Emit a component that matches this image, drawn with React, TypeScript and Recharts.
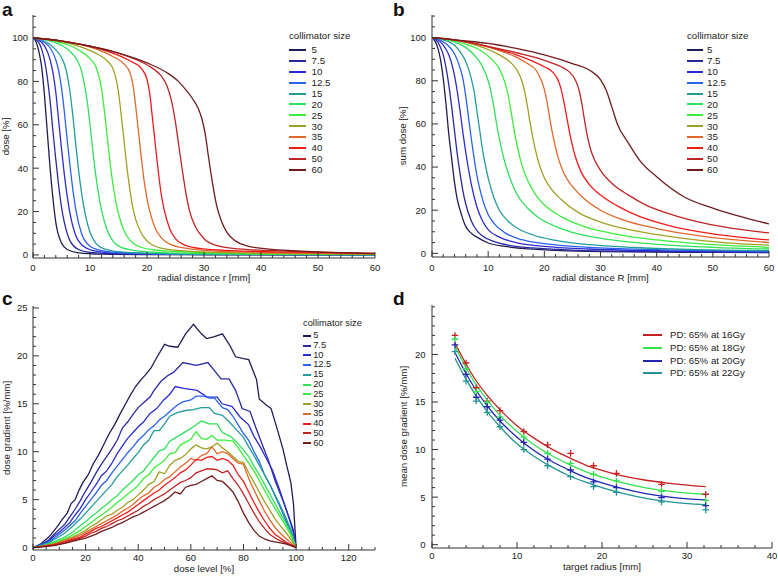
import React from 'react';
import { LineChart, ComposedChart, Line, Scatter, XAxis, YAxis, Legend } from 'recharts';

const FONT = '"Liberation Sans", Arial, Helvetica, sans-serif';
const INK = '#333';
const TXT = '#222';

// collimator sizes [mm] and their colours (panels a, b, c)
const sizes = ['5', '7.5', '10', '12.5', '15', '20', '25', '30', '35', '40', '50', '60'];
const sizeColors = ['#1e1e55', '#2a2aa0', '#2c2cd2', '#2a62ee', '#249c9c', '#2ee05a', '#3cee3c', '#a0a024', '#e0682a', '#f01c1c', '#c02424', '#701c1c'];

// a: dose profile [r mm, dose %]
const profileCurves: number[][][] = [
  [[0, 100], [0.5, 98.5], [1, 94], [1.5, 87], [2, 74], [2.5, 57], [3, 40], [3.5, 26], [4, 15], [5, 5.5], [6, 2.5], [8, 1], [12, 0.4], [20, 0.2], [60, 0]],
  [[0, 100], [1, 98], [1.5, 95], [2, 90], [2.5, 82], [3, 71], [3.5, 57], [4, 44], [4.5, 32], [5, 22], [5.5, 15], [6.5, 6.5], [8, 2.5], [10, 1.2], [15, 0.5], [30, 0.2], [60, 0]],
  [[0, 100], [1, 99], [2, 96.5], [3, 90], [3.5, 84], [4, 75], [4.5, 62], [5, 49], [5.5, 37], [6, 27], [6.5, 19], [7.5, 9], [9, 3.8], [11, 1.8], [15, 0.8], [30, 0.3], [60, 0.1]],
  [[0, 100], [1, 99.5], [2, 98], [3, 95.5], [4, 90], [4.5, 85], [5, 77], [5.5, 66], [6, 53], [6.5, 41], [7, 30], [7.5, 21], [8.5, 10], [10, 4], [12, 2], [16, 0.9], [30, 0.3], [60, 0.1]],
  [[0, 100], [1, 99.6], [2, 98.6], [3, 97], [4, 94.5], [5, 91], [5.5, 88], [6, 83], [6.5, 75], [7, 64], [7.5, 51], [8, 39], [8.5, 29], [9, 21], [10, 10.5], [11, 5.5], [12.5, 2.8], [15, 1.5], [20, 0.8], [35, 0.3], [60, 0.1]],
  [[0, 100], [2, 99.3], [4, 97.8], [6, 95], [7, 92.5], [8, 88.5], [8.5, 85], [9, 79], [9.5, 71], [10, 60], [10.5, 48], [11, 37], [11.5, 28], [12, 21], [13, 11.5], [14, 6.5], [15.5, 3.5], [18, 2], [22, 1.2], [30, 0.6], [45, 0.3], [60, 0.2]],
  [[0, 100], [2, 99.5], [4, 98.5], [6, 97], [8, 94.5], [10, 90.5], [11, 87], [11.5, 83], [12, 77], [12.5, 67], [13, 55], [13.5, 43], [14, 33], [14.5, 25], [15, 19], [16, 11], [17, 6.8], [18.5, 4], [21, 2.4], [25, 1.6], [32, 1], [45, 0.5], [60, 0.3]],
  [[0, 100], [3, 99.2], [6, 97.8], [9, 95.3], [11, 93], [13, 89.5], [14, 86], [14.5, 82], [15, 75], [15.5, 64], [16, 52], [16.5, 40], [17, 30], [17.5, 22], [18, 16.5], [19, 10], [20, 6.5], [22, 3.5], [25, 2.2], [30, 1.4], [40, 0.8], [60, 0.4]],
  [[0, 100], [4, 99], [8, 97.2], [11, 95], [14, 91.5], [16, 88], [17, 84], [17.5, 79], [18, 69], [18.5, 57], [19, 45], [19.5, 34], [20, 26], [20.5, 20], [21.5, 12], [22.5, 8], [24, 5], [27, 3], [32, 1.8], [40, 1.2], [60, 0.5]],
  [[0, 100], [4, 99], [8, 97.3], [12, 94.8], [15, 92], [17, 89.5], [19, 86], [20, 81], [20.5, 74], [21, 62], [21.5, 50], [22, 38], [22.5, 28], [23, 21], [24, 12], [25, 7.5], [27, 4.2], [30, 2.8], [35, 2], [45, 1.3], [60, 0.7]],
  [[0, 100], [5, 98.6], [10, 96.2], [15, 93], [19, 89], [21, 86], [22.5, 82.5], [23.5, 78], [24.3, 71], [25, 61], [25.6, 50], [26.2, 39], [26.8, 29], [27.5, 20], [28.5, 13], [30, 7.5], [32, 4.5], [36, 2.8], [42, 2], [50, 1.3], [60, 0.7]],
  [[0, 100], [5, 98.6], [10, 96.2], [15, 93], [20, 88.5], [23.5, 84], [25.5, 80], [27, 75.5], [28, 72], [29, 67.5], [29.6, 63], [30.2, 56], [30.8, 45], [31.5, 33], [32.2, 23], [33, 16], [34, 10.5], [35.5, 6.5], [37.5, 4.2], [41, 2.8], [47, 1.8], [53, 1.1], [60, 0.6]],
];

// b: sum dose [R mm, %]
const sumCurves: number[][][] = [
  [[0, 100], [0.5, 98.5], [1, 95.5], [1.5, 90], [2, 81], [2.5, 69], [3, 55], [3.5, 44], [4, 33], [4.5, 25], [5, 20], [6, 12.5], [7, 9.3], [8, 7.5], [10, 4.8], [13, 3.2], [16, 2.3], [22, 1.4], [30, 0.8], [45, 0.5], [60, 0.3]],
  [[0, 100], [1, 98], [1.5, 95.5], [2, 92], [2.5, 86], [3, 78], [3.5, 68], [4, 57], [4.5, 46], [5, 37], [5.5, 29], [6, 23], [7, 15], [8, 10.5], [9, 8], [11, 5.5], [14, 3.6], [18, 2.5], [25, 1.5], [35, 0.9], [60, 0.5]],
  [[0, 100], [1, 99], [2, 96.5], [3, 92], [3.5, 88], [4, 82.5], [4.5, 75], [5, 66], [5.5, 56], [6, 47], [6.5, 39], [7, 32], [8, 21.5], [9, 15], [10, 11], [12, 7.5], [15, 5], [20, 3.2], [28, 2], [40, 1.2], [60, 0.7]],
  [[0, 100], [1, 99.5], [2, 98], [3, 96], [4, 92.5], [5, 86], [5.5, 81], [6, 73], [6.5, 63], [7, 53], [7.5, 44], [8, 36], [9, 25], [10, 18], [11, 14], [13, 9.5], [16, 6.3], [20, 4.5], [28, 2.8], [40, 1.7], [60, 1]],
  [[0, 100], [2, 99], [4, 96.5], [5, 93.5], [6, 89], [7, 81], [7.5, 75], [8, 66], [8.5, 57], [9, 48], [9.5, 41], [10, 35], [11, 26], [12, 20], [13.5, 15], [15, 12], [18, 8.5], [22, 6], [28, 4], [36, 2.7], [46, 1.8], [60, 1.2]],
  [[0, 100], [2, 99.3], [4, 98], [6, 95.5], [8, 90.5], [9, 86.5], [10, 80], [10.5, 75], [11, 68], [11.5, 60], [12, 53], [12.5, 47], [13, 42], [14, 34], [15, 28], [17, 21], [19, 16.5], [22, 12.5], [26, 9], [32, 6.2], [40, 4.2], [50, 2.8], [60, 2]],
  [[0, 100], [3, 99], [6, 97], [9, 93.5], [11, 89], [12, 85.5], [13, 79], [13.5, 74], [14, 67], [14.5, 59], [15, 52], [15.5, 46], [16, 41], [17, 34], [18.5, 27], [20, 22.5], [23, 17], [27, 12.5], [32, 9.3], [40, 6.2], [50, 4], [60, 2.8]],
  [[0, 100], [3, 99.3], [6, 97.8], [9, 95.5], [12, 92], [14, 88.5], [15, 85.5], [16, 80], [16.5, 75], [17, 68], [17.5, 60], [18, 53], [18.5, 47], [19, 42], [20, 35], [21.5, 29], [23, 25], [26, 19], [30, 14.5], [36, 10.5], [44, 7.2], [52, 5], [60, 3.8]],
  [[0, 100], [4, 99], [8, 97], [12, 94], [15, 91], [17, 88], [18.5, 85], [19.5, 80], [20, 76], [20.5, 70], [21, 62], [21.5, 55], [22, 49], [22.5, 44], [23.5, 37], [25, 31], [27, 25.5], [30, 20], [34, 15.5], [40, 11.5], [48, 8], [60, 5]],
  [[0, 100], [5, 98.5], [10, 95.8], [15, 92], [18, 89], [20, 86.5], [21.5, 84], [22.5, 80], [23, 76], [23.5, 70], [24, 63], [24.5, 56], [25, 50], [25.5, 45], [26.5, 38], [28, 32], [30, 27], [33, 22], [37, 17], [42, 13], [50, 9], [60, 6.2]],
  [[0, 100], [5, 98.6], [10, 96], [15, 93], [20, 89.5], [23, 86.5], [24.5, 84], [25.5, 80.5], [26.2, 75.5], [26.7, 69], [27.2, 61], [27.7, 54], [28.2, 48.5], [29, 43], [30, 38.5], [32, 32.5], [35, 27], [38, 22.5], [42, 18.5], [47, 14.8], [53, 11.8], [60, 9.5]],
  [[0, 100], [5, 98.7], [10, 97.3], [15, 95], [20, 92], [25, 88], [28, 85], [30, 80.5], [31, 75.7], [32, 68], [33, 60], [35, 51], [37, 43], [40, 35.5], [45, 26], [50, 21], [55, 17], [60, 13.6]],
];

// c: dose gradient [dose level %, %/mm]
const gradientCurves: number[][][] = [
  [[0, 0], [3, 0.4], [6, 1.1], [9, 2.1], [11, 2.9], [13, 3.6], [14.5, 4.6], [16, 5], [17.5, 6], [19, 6.8], [21, 7.6], [23, 8.8], [25, 9.7], [27, 10.8], [29, 11.9], [31, 12.8], [33, 13.9], [35, 14.9], [37, 15.9], [39, 16.8], [41, 17.5], [43, 18.1], [45, 18.8], [47, 19.8], [50, 21.2], [52, 21], [55, 20.9], [58, 22.3], [61, 23.3], [64, 22.3], [66, 21.8], [69, 22], [72, 22.3], [75, 21], [77, 19.9], [80, 19.7], [82, 19.6], [85, 17.5], [86, 15.5], [89, 14.8], [90.5, 14.5], [93, 12.2], [95, 10.3], [96.5, 8.5], [98, 6.8], [99, 4.6], [100, 0]],
  [[0, 0], [3, 0.3], [6, 0.8], [8, 1.4], [10, 1.9], [12, 2.4], [14, 3.2], [16, 4], [18, 4.9], [20, 5.9], [22, 6.8], [24, 7.8], [26, 8.7], [28, 9.5], [30, 10.3], [32, 11.2], [34, 12.5], [36, 13.1], [38, 13.9], [40, 14.6], [42, 15.1], [44.5, 15.7], [46, 16.4], [48.5, 17.3], [51, 17.9], [53.5, 18.3], [57, 19.3], [62, 19], [66.5, 19.3], [71.5, 17.6], [74.5, 17.6], [77, 16.4], [79.5, 14.5], [82.5, 14.2], [85, 12.3], [87.5, 10.5], [89.5, 9.1], [92, 7], [95, 4.9], [97.5, 3], [99, 1.8], [100, 0]],
  [[0, 0], [3, 0.3], [6, 0.7], [8, 1.2], [10, 1.6], [12, 2.1], [14, 2.6], [16, 3.4], [18, 4.1], [20, 5], [22, 5.8], [24, 6.6], [26, 7.5], [28, 8], [30, 8.8], [32, 9.8], [34, 10.6], [36, 11.4], [38, 12], [40, 12.6], [42, 13.1], [44.5, 14], [47, 14.5], [49.7, 15.4], [52, 16], [54.1, 16.8], [57.3, 16.6], [62.4, 16.4], [66.2, 15.7], [70, 15.7], [71.9, 15], [75.7, 14.7], [78.8, 13.6], [82, 12.8], [84, 11.6], [86.4, 10.5], [88.3, 9.5], [91, 8.1], [93.4, 6.3], [96, 4.2], [98, 2.5], [99.3, 1.2], [100, 0]],
  [[0, 0], [3, 0.3], [6, 0.6], [8, 1], [10, 1.4], [12, 1.8], [14, 2.3], [16, 2.8], [18, 3.6], [20, 4.3], [22, 5], [24, 5.7], [26, 6.5], [28, 7], [30, 7.8], [32, 8.5], [34, 9.2], [36, 9.9], [38, 10.5], [40, 11.2], [42, 11.7], [44, 12.3], [46, 12.7], [48, 13.3], [50, 13.7], [52, 14.2], [55, 14.9], [57, 15.2], [60, 15.4], [62, 15.8], [65, 15.8], [67, 15.6], [69, 15.6], [72, 14.6], [74, 14.4], [76, 13.7], [78, 12.8], [80, 11.9], [82, 11.2], [84, 10], [86, 9], [88, 7.6], [90, 6.6], [92, 5.4], [94, 4.2], [96, 2.9], [98, 1.6], [100, 0]],
  [[0, 0], [3, 0.2], [6, 0.5], [9, 1], [12, 1.5], [15, 2.2], [18, 3], [20, 3.6], [22, 4.2], [24, 4.8], [26, 5.4], [28, 6], [30, 6.6], [32, 7.4], [34, 8], [36, 8.6], [38, 9.3], [40, 9.9], [42, 10.7], [44, 11.2], [46, 12.2], [48, 12.2], [50, 12.9], [52, 13.7], [55, 14.1], [58, 14.3], [61, 14.4], [64, 14.6], [67, 14.6], [69, 14], [72, 13.8], [75, 13], [78, 12.1], [80, 11.5], [82, 10.5], [84, 9.6], [86, 8.6], [88, 7.6], [90, 6.6], [92, 5.5], [94, 4.4], [96, 3.2], [98, 1.9], [100, 0]],
  [[0, 0], [4, 0.2], [8, 0.6], [12, 1.1], [15, 1.6], [18, 2.3], [20, 2.7], [22, 3.2], [24, 3.6], [26, 4.1], [28, 4.5], [30, 5], [32, 5.4], [34, 6], [36, 6.5], [38, 7], [40, 7.6], [42, 8], [44, 8.7], [46, 9.4], [48, 10.1], [50, 10.3], [52, 11.1], [55, 11.6], [58, 12.1], [61, 12.6], [64, 13.2], [67, 12.9], [70, 12.9], [72, 12], [75, 11.6], [77, 11.1], [80, 10.2], [82, 9.5], [84, 8.5], [86, 7.6], [88, 6.6], [90, 5.6], [92, 4.6], [94, 3.6], [96, 2.6], [98, 1.5], [100, 0]],
  [[0, 0], [4, 0.2], [8, 0.5], [12, 0.9], [15, 1.3], [18, 1.8], [20, 2.2], [22, 2.6], [24, 3], [26, 3.4], [28, 3.8], [30, 4.2], [32, 4.7], [34, 5.1], [36, 5.6], [38, 6], [40, 6.5], [42, 7.2], [44, 7.6], [46, 8.3], [48, 8.7], [50, 9.1], [52, 9.8], [54, 9.9], [56, 10.7], [58, 11], [60, 11.3], [62, 12.1], [64, 11.4], [66, 11.3], [68, 11.7], [70, 11.2], [73, 11.2], [76, 11.1], [78, 10.4], [80, 9.6], [82, 8.8], [84, 8], [86, 7], [88, 6], [90, 5], [92, 4.1], [94, 3.2], [96, 2.3], [98, 1.3], [100, 0]],
  [[0, 0], [4, 0.2], [8, 0.4], [12, 0.8], [15, 1.1], [18, 1.5], [20, 1.8], [22, 2.2], [24, 2.5], [26, 2.9], [28, 3.3], [30, 3.5], [32, 3.9], [34, 4.2], [36, 4.7], [38, 5], [40, 5.5], [42, 6], [44, 6.6], [46, 6.9], [48, 7.9], [50, 7.7], [52, 8.6], [54, 9.1], [56, 9.3], [58, 9.7], [60, 10.3], [62, 10.7], [64, 10.4], [66, 10.3], [68, 10.5], [70, 10.9], [72, 10.4], [74, 10], [76, 9.5], [78, 9], [80, 8.9], [82, 7.8], [84, 6.8], [86, 5.8], [88, 4.8], [90, 3.9], [92, 3], [94, 2.3], [96, 1.6], [98, 0.9], [100, 0]],
  [[0, 0], [4, 0.15], [8, 0.35], [12, 0.7], [15, 1], [18, 1.3], [20, 1.6], [22, 1.9], [24, 2.2], [26, 2.5], [28, 2.8], [30, 3.1], [32, 3.4], [34, 3.8], [36, 4.1], [38, 4.5], [40, 5], [42, 5.4], [44, 5.7], [46, 6.3], [48, 6.6], [50, 7.1], [52, 7.4], [54, 7.9], [56, 8.4], [58, 8.8], [60, 9.3], [62, 9.1], [64, 9.6], [66, 9.8], [68, 10.5], [70, 9.8], [72, 10], [74, 9.8], [76, 9.3], [78, 8.8], [80, 8.7], [82, 7.2], [84, 6], [86, 4.9], [88, 3.8], [90, 2.9], [92, 2.1], [94, 1.5], [96, 1], [98, 0.5], [100, 0]],
  [[0, 0], [4, 0.15], [8, 0.3], [12, 0.6], [15, 0.85], [18, 1.1], [20, 1.4], [22, 1.7], [24, 2], [26, 2.2], [28, 2.5], [30, 2.8], [32, 3.1], [34, 3.4], [36, 3.7], [38, 4.1], [40, 4.5], [42, 4.9], [44, 5.3], [46, 5.7], [48, 6], [50, 6.5], [52, 6.9], [54, 7.3], [56, 7.8], [58, 8.1], [60, 8.6], [62, 9.2], [64, 9.1], [66, 9.4], [68, 9.5], [70, 9.1], [72, 9.3], [74, 9.1], [76, 8.6], [78, 7.6], [80, 6.9], [82, 5.8], [84, 4.7], [86, 3.7], [88, 2.8], [90, 2], [92, 1.4], [94, 1], [96, 0.6], [98, 0.3], [100, 0]],
  [[0, 0], [4, 0.1], [8, 0.25], [12, 0.5], [15, 0.75], [18, 1], [20, 1.2], [22, 1.5], [24, 1.7], [26, 2], [28, 2.2], [30, 2.5], [32, 2.8], [34, 3], [36, 3.3], [38, 3.6], [40, 3.9], [42, 4.3], [44, 4.6], [46, 5], [48, 5.3], [50, 5.6], [52, 6], [54, 6.4], [56, 6.8], [58, 7], [60, 7.3], [62, 7.8], [64, 8], [66, 8.2], [68, 8.2], [70, 8.1], [72, 7.8], [74, 8], [76, 7.2], [78, 6.5], [80, 5.6], [82, 4.6], [84, 3.6], [86, 2.7], [88, 2], [90, 1.4], [92, 1], [94, 0.7], [96, 0.5], [98, 0.3], [100, 0]],
  [[0, 0], [4, 0.1], [8, 0.2], [12, 0.45], [15, 0.65], [18, 0.85], [20, 1], [22, 1.2], [24, 1.4], [26, 1.7], [28, 1.9], [30, 2.1], [32, 2.4], [34, 2.6], [36, 2.9], [38, 3.2], [40, 3.4], [42, 3.7], [44, 4], [46, 4.3], [48, 4.6], [50, 4.9], [52, 5.3], [54, 5.8], [56, 5.6], [58, 6.3], [60, 6.5], [62, 6.6], [64, 6.9], [66, 7.2], [68, 7.5], [70, 7], [72, 6.9], [74, 6.4], [76, 5.8], [78, 4.8], [80, 3.6], [82, 2.6], [84, 1.8], [86, 1.2], [88, 0.9], [90, 0.7], [92, 0.6], [94, 0.5], [96, 0.4], [98, 0.2], [100, 0]],
];

// d: mean dose gradient vs target radius
const pdNames = ['PD: 65% at 16Gy', 'PD: 65% at 18Gy', 'PD: 65% at 20Gy', 'PD: 65% at 22Gy'];
const pdColors = ['#c42222', '#36e050', '#2424b0', '#229494'];
const targetRadii = [2.7, 4.0, 5.2, 6.5, 8.0, 10.8, 13.6, 16.3, 19.0, 21.7, 27.0, 32.2];
const measured16 = [22.0, 19.1, 16.5, 15.1, 14.1, 11.9, 10.5, 9.6, 8.3, 7.5, 6.35, 5.3];
const measured18 = [21.6, 18.5, 16.1, 15.0, 13.4, 11.3, 9.6, 8.55, 7.4, 6.7, 5.6, 4.65];
const measured20 = [21.0, 17.9, 15.5, 14.5, 13.1, 10.75, 9.0, 7.85, 6.6, 6.0, 4.95, 4.1];
const measured22 = [20.3, 17.2, 15.1, 13.9, 12.4, 10.0, 8.3, 7.15, 6.1, 5.5, 4.5, 3.65];
const fitRadii = [2.7, 4, 5, 6.5, 8, 10, 12, 14, 16, 18, 20, 22, 25, 28, 32.2];
const fit16 = [21.2, 19.0, 17.5, 15.7, 14.2, 12.5, 11.2, 10.1, 9.2, 8.4, 7.8, 7.3, 6.8, 6.45, 6.1];
const fit18 = [20.9, 18.6, 17.1, 15.2, 13.6, 11.9, 10.5, 9.4, 8.5, 7.7, 7.1, 6.6, 6.0, 5.6, 5.3];
const fit20 = [20.2, 18.0, 16.5, 14.6, 13.0, 11.3, 9.9, 8.8, 7.9, 7.1, 6.5, 6.0, 5.4, 5.0, 4.7];
const fit22 = [19.6, 17.4, 15.9, 14.0, 12.4, 10.6, 9.3, 8.2, 7.3, 6.6, 6.0, 5.5, 4.9, 4.5, 4.2];

// axis tick labels
const radialMajor = [0, 10, 20, 30, 40, 50, 60];
const percentMajor = [0, 20, 40, 60, 80, 100];
const doseLevelMajor = [0, 20, 40, 60, 80, 100, 120];
const gradientMajor = [0, 5, 10, 15, 20, 25];
const radiusMajor = [0, 10, 20, 30, 40];
const meanGradMajor = [0, 5, 10, 15, 20];

const steps = (a: number, b: number, s: number) => {
  const out: number[] = [];
  for (let v = a; v <= b + 1e-9; v += s) out.push(Math.round(v * 1000) / 1000);
  return out;
};

const pts = (pairs: number[][]) => pairs.map(([x, y]) => ({ x, y }));
const zip = (xs: number[], ys: number[]) => xs.map((x, i) => ({ x, y: ys[i] }));

type Side = 'bottom' | 'top' | 'left' | 'right';

const TICK_FS = 9.5;
const TITLE_FS = 9.7;

const tickMark = (side: Side, majors: number[], gap = 0) => (p: any) => {
  const v = p.payload?.value;
  const major = majors.includes(v);
  const len = major ? 6 : 3;
  const { x, y } = p;
  let mark;
  if (side === 'bottom') mark = <line x1={x} x2={x} y1={y} y2={y - len} />;
  else if (side === 'top') mark = <line x1={x} x2={x} y1={y} y2={y + len} />;
  else if (side === 'left') mark = <line x1={x} x2={x + len} y1={y} y2={y} />;
  else mark = <line x1={x} x2={x - len} y1={y} y2={y} />;
  return (
    <g>
      <g stroke={INK} strokeWidth={1}>{mark}</g>
      {major && side === 'bottom' && (
        <text x={x} y={y + gap} textAnchor="middle" fontSize={TICK_FS} fill={TXT}>{v}</text>
      )}
      {major && side === 'left' && (
        <text x={x - gap} y={y + 3.4} textAnchor="end" fontSize={TICK_FS} fill={TXT}>{v}</text>
      )}
    </g>
  );
};

const xTitle = (text: string, dy: number) => (p: any) => {
  const vb = p.viewBox;
  if (!vb) return null;
  return <text x={vb.x + vb.width / 2} y={vb.y + dy} textAnchor="middle" fontSize={TITLE_FS} fill={TXT}>{text}</text>;
};

const yTitle = (text: string, bx: number) => (p: any) => {
  const vb = p.viewBox;
  if (!vb) return null;
  const cy = vb.y + vb.height / 2;
  const x = vb.x + bx;
  return <text x={x} y={cy} transform={`rotate(-90, ${x}, ${cy})`} textAnchor="middle" fontSize={TITLE_FS} fill={TXT}>{text}</text>;
};

type Frame = {
  xDomain: number[]; yDomain: number[];
  xTicks: number[]; xMajor: number[]; yTicks: number[]; yMajor: number[];
  xAxisHeight: number; yAxisWidth: number;
  xLabel: string; yLabel: string; tickDy: number; labelDy: number; yLabelX: number; yGap: number;
};

function frameAxes(f: Frame) {
  const common = { type: 'number' as const, allowDataOverflow: true, tickSize: 0, tickMargin: 0, tickLine: false, interval: 0 as const, axisLine: { stroke: INK, strokeWidth: 1 } };
  return [
    <XAxis key="xb" xAxisId="b" dataKey="x" {...common} domain={f.xDomain} ticks={f.xTicks} height={f.xAxisHeight}
      tick={tickMark('bottom', f.xMajor, f.tickDy)} label={xTitle(f.xLabel, f.labelDy)} />,
    <XAxis key="xt" xAxisId="t" orientation="top" {...common} domain={f.xDomain} ticks={f.xTicks} height={0}
      tick={tickMark('top', f.xMajor)} />,
    <YAxis key="yl" yAxisId="l" {...common} domain={f.yDomain} ticks={f.yTicks} width={f.yAxisWidth}
      tick={tickMark('left', f.yMajor, f.yGap)} label={yTitle(f.yLabel, f.yLabelX)} />,
    <YAxis key="yr" yAxisId="r" orientation="right" {...common} domain={f.yDomain} ticks={f.yTicks} width={0}
      tick={tickMark('right', f.yMajor)} />,
  ];
}

const SeriesLegend = ({ payload, title, order, colors, lineW, rowH, gap, titleGap, fontSize, boxW }: any) => {
  const items = [...(payload || [])]
    .filter((it: any) => it.type !== 'none' && order.includes(it.value))
    .sort((a: any, b: any) => order.indexOf(a.value) - order.indexOf(b.value));
  const first = title ? rowH + titleGap : 0;
  const boxH = Math.ceil(first + items.length * rowH);
  const lh = Math.min(rowH, fontSize);
  return (
    <div style={{ position: 'relative', width: boxW, height: boxH, fontFamily: FONT, fontSize, color: TXT, whiteSpace: 'nowrap' }}>
      {title && <div style={{ position: 'absolute', left: 0, top: (rowH - lh) / 2, lineHeight: `${lh}px` }}>{title}</div>}
      {items.map((it: any, i: number) => {
        const top = first + i * rowH;
        return (
          <React.Fragment key={it.value}>
            <span style={{ position: 'absolute', left: 0, top: Math.round(top + rowH / 2) - 1, width: lineW, height: 2, background: colors[order.indexOf(it.value)] }} />
            <span style={{ position: 'absolute', left: lineW + gap, top: top + (rowH - lh) / 2, lineHeight: `${lh}px` }}>{it.value}</span>
          </React.Fragment>
        );
      })}
    </div>
  );
};

const PanelLetter = ({ ch, left, top }: { ch: string; left: number; top: number }) => (
  <div style={{ position: 'absolute', left, top, fontFamily: FONT, fontWeight: 700, fontSize: 19, lineHeight: '19px', color: '#111' }}>{ch}</div>
);

const frameA: Frame = {
  xDomain: [0, 60], yDomain: [-1.4, 110.6], xTicks: steps(0, 60, 2), xMajor: radialMajor,
  yTicks: steps(0, 110, 5), yMajor: percentMajor, xAxisHeight: 30, yAxisWidth: 33,
  xLabel: 'radial distance r [mm]', yLabel: 'dose [%]', tickDy: 13, labelDy: 22.5, yLabelX: 9, yGap: 5,
};
const frameB: Frame = {
  xDomain: [0, 60], yDomain: [-1.7, 110.5], xTicks: steps(0, 60, 2), xMajor: radialMajor,
  yTicks: steps(0, 110, 5), yMajor: percentMajor, xAxisHeight: 31, yAxisWidth: 43,
  xLabel: 'radial distance R [mm]', yLabel: 'sum dose [%]', tickDy: 14, labelDy: 23.5, yLabelX: 17, yGap: 6,
};
const frameC: Frame = {
  xDomain: [0, 130], yDomain: [-0.25, 25.2], xTicks: steps(0, 130, 5), xMajor: doseLevelMajor,
  yTicks: steps(0, 25, 1), yMajor: gradientMajor, xAxisHeight: 26, yAxisWidth: 33,
  xLabel: 'dose level [%]', yLabel: 'dose gradient [%/mm]', tickDy: 11.2, labelDy: 22, yLabelX: 10, yGap: 5.5,
};
const frameD: Frame = {
  xDomain: [0, 40], yDomain: [-0.35, 25.2], xTicks: steps(0, 40, 2), xMajor: radiusMajor,
  yTicks: steps(0, 25, 1), yMajor: meanGradMajor, xAxisHeight: 28, yAxisWidth: 43,
  xLabel: 'target radius [mm]', yLabel: 'mean dose gradient [%/mm]', tickDy: 11, labelDy: 21.5, yLabelX: 18, yGap: 6.5,
};

const collimatorLegend = (left: number, top: number, lineW: number, rowH: number, gap: number, titleGap: number, fs: number) => (
  <Legend layout="vertical" align="center" verticalAlign="middle"
    wrapperStyle={{ left, top, width: 'auto', height: 'auto' }}
    content={(p: any) => <SeriesLegend payload={p.payload} title="collimator size" order={sizes} colors={sizeColors}
      lineW={lineW} rowH={rowH} gap={gap} titleGap={titleGap} fontSize={fs} boxW={80} />} />
);

const curveLines = (curves: number[][][], type: 'monotone' | 'linear') =>
  curves.map((c, i) => (
    <Line key={sizes[i]} xAxisId="b" yAxisId="l" data={pts(c)} dataKey="y" name={sizes[i]} type={type}
      stroke={sizeColors[i]} strokeWidth={1.3} dot={false} activeDot={false} isAnimationActive={false} />
  ));

const plusShape = (color: string) => (p: any) => (
  <path d={`M${p.cx - 3.3},${p.cy}h6.6M${p.cx},${p.cy - 3.3}v6.6`} stroke={color} strokeWidth={1.3} fill="none" />
);

const measured = [measured16, measured18, measured20, measured22];
const fits = [fit16, fit18, fit20, fit22];

export default function App() {
  return (
    <div style={{ position: 'absolute', left: 0, top: 0, width: 778, height: 576, background: '#fff', fontFamily: FONT }}>
      <div style={{ position: 'absolute', left: 0, top: 0 }}>
        <LineChart width={389} height={288} margin={{ top: 15, right: 14, bottom: 0, left: 0 }}>
          {frameAxes(frameA)}
          {curveLines(profileCurves, 'monotone')}
          {collimatorLegend(289, 30, 17, 10.95, 5.6, 3.3, 9.7)}
        </LineChart>
      </div>
      <div style={{ position: 'absolute', left: 389, top: 0 }}>
        <LineChart width={389} height={288} margin={{ top: 15, right: 9, bottom: 0, left: 0 }}>
          {frameAxes(frameB)}
          {curveLines(sumCurves, 'monotone')}
          {collimatorLegend(298, 30, 15.6, 10.95, 4.4, 3.3, 9.7)}
        </LineChart>
      </div>
      <div style={{ position: 'absolute', left: 0, top: 288 }}>
        <LineChart width={389} height={288} margin={{ top: 18, right: 14, bottom: 0, left: 0 }}>
          {frameAxes(frameC)}
          {curveLines(gradientCurves, 'linear')}
          {collimatorLegend(303, 31, 8.4, 9.76, 1.8, 2.2, 9.3)}
        </LineChart>
      </div>
      <div style={{ position: 'absolute', left: 389, top: 288 }}>
        <ComposedChart width={389} height={288} margin={{ top: 17, right: 6, bottom: 0, left: 0 }}>
          {frameAxes(frameD)}
          {fits.map((f, i) => (
            <Line key={pdNames[i]} xAxisId="b" yAxisId="l" data={zip(fitRadii, f)} dataKey="y" name={pdNames[i]} type="monotone"
              stroke={pdColors[i]} strokeWidth={1.3} dot={false} activeDot={false} isAnimationActive={false} />
          ))}
          {measured.map((m, i) => (
            <Scatter key={'m' + i} xAxisId="b" yAxisId="l" data={zip(targetRadii, m)} dataKey="y" name={'m' + i}
              legendType="none" shape={plusShape(pdColors[i])} isAnimationActive={false} />
          ))}
          <Legend layout="vertical" align="center" verticalAlign="middle"
            wrapperStyle={{ left: 254, top: 41, width: 'auto', height: 'auto' }}
            content={(p: any) => <SeriesLegend payload={p.payload} order={pdNames} colors={pdColors}
              lineW={19} rowH={12.6} gap={8} titleGap={0} fontSize={9.7} boxW={110} />} />
        </ComposedChart>
      </div>
      <PanelLetter ch="a" left={2} top={0} />
      <PanelLetter ch="b" left={393} top={0} />
      <PanelLetter ch="c" left={2} top={289} />
      <PanelLetter ch="d" left={393} top={289} />
    </div>
  );
}
